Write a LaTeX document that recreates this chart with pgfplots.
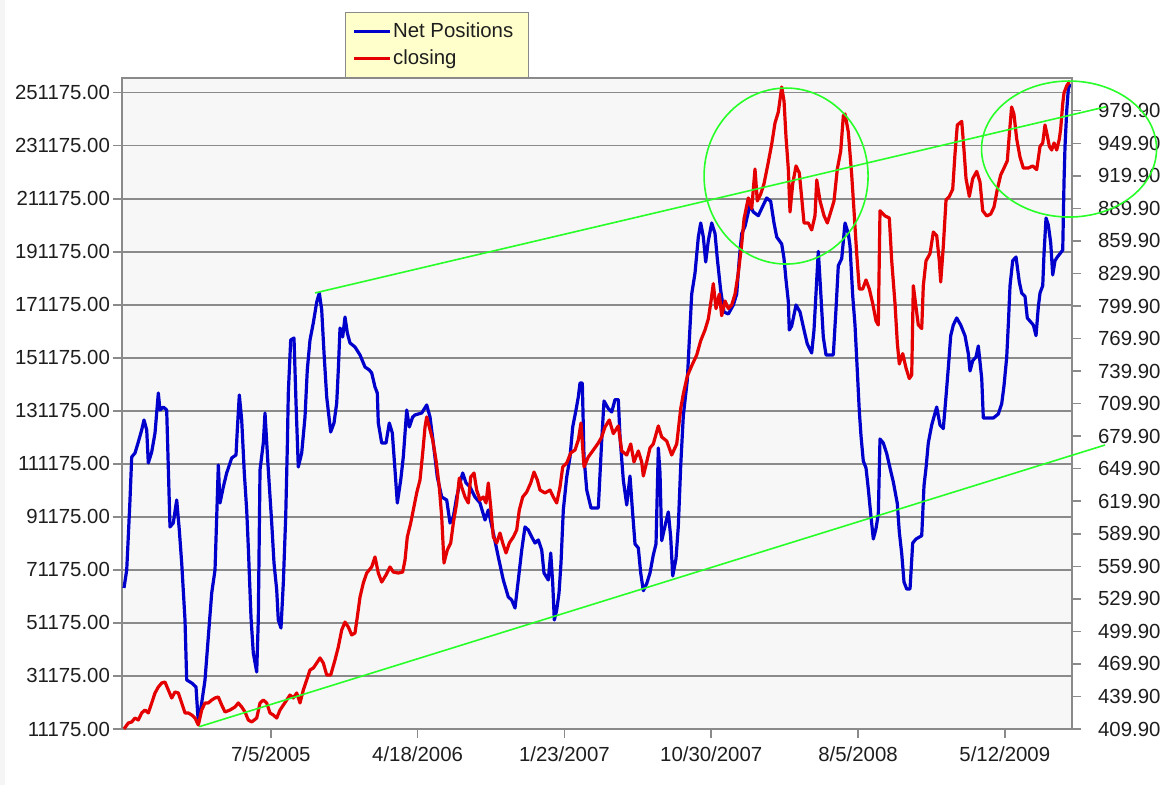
\documentclass[border=0pt]{standalone}
\usepackage{pgfplots}
\pgfplotsset{compat=1.18}
\usepackage{fontspec}
\setmainfont{Liberation Sans}
\definecolor{netblue}{RGB}{0,0,205}
\definecolor{closered}{RGB}{228,0,0}
\definecolor{trendgreen}{RGB}{40,255,40}
\definecolor{plotbg}{RGB}{247,247,247}
\definecolor{gridgray}{RGB}{138,138,138}
\definecolor{legendbg}{RGB}{255,255,204}
\definecolor{labeltext}{RGB}{30,30,30}
\begin{document}
\begin{tikzpicture}[x=1pt,y=1pt]
\path[use as bounding box] (0,0) rectangle (580,392.5);
\fill[gray!8] (0,0) rectangle (2.5,392.5);
\pgfplotsset{every axis/.append style={font=\fontsize{10.2}{12}\selectfont, text=labeltext}}
\begin{axis}[
  at={(61pt,28pt)}, anchor=south west, scale only axis,
  width=475pt, height=325.5pt,
  xmin=-0.545, xmax=258.31, ymin=11175, ymax=256730,
  scaled y ticks=false, scaled x ticks=false,
  axis background/.style={fill=plotbg},
  axis line style={gridgray, line width=0.75pt},
  ymajorgrids, grid style={gridgray, line width=0.75pt},
  tick align=outside, major tick length=4.5pt,
  tick style={gridgray, line width=0.75pt},
  xtick pos=bottom, ytick pos=left,
  xtick={40,80,120,160,200,240},
  xticklabels={7/5/2005,4/18/2006,1/23/2007,10/30/2007,8/5/2008,5/12/2009},
  ytick={11175,31175,51175,71175,91175,111175,131175,151175,171175,191175,211175,231175,251175},
  yticklabels={11175.00,31175.00,51175.00,71175.00,91175.00,111175.00,131175.00,151175.00,171175.00,191175.00,211175.00,231175.00,251175.00},
  yticklabel style={xshift=2pt},
  xticklabel style={yshift=-1pt},
]
\addplot[netblue, line width=1.6pt, line join=round] coordinates {
(0,64360) (0.74,71150) (1.09,81330) (1.63,97550) (2.10,113770) (3.00,115280) (3.82,119050) (4.82,123960) (5.45,127730) (6.19,123960) (6.62,111510) (7.55,115660) (8.45,122830) (9.35,137910) (9.81,131500) (10.71,132630) (11.63,131500) (12.07,110000) (12.53,87370) (13.43,88880) (14.36,97550) (15.07,86240) (15.72,73790) (16.62,52290) (17.08,29660) (18.45,28530) (19.62,27020) (20.25,13440) (21.17,20980) (22.07,29660) (22.97,45880) (23.90,62470) (24.80,71150) (25.26,91140) (25.70,110760) (26.16,96420) (27.06,102460) (27.98,107740) (29.35,113400) (30.52,114530) (30.87,123960) (31.42,137160) (32.07,127730) (32.78,107740) (33.43,93780) (33.87,79830) (34.60,53420) (35.23,39840) (36.16,32680) (36.59,52290) (37.06,108870) (37.96,119050) (38.42,130370) (39.32,108870) (40.25,88880) (40.87,73790) (41.61,63610) (42.04,52290) (42.78,49270) (43.41,66250) (44.06,91140) (44.50,117550) (44.77,137910) (45.42,157910) (46.32,158660) (46.87,134140) (47.49,110000) (48.42,115280) (49.32,128860) (49.94,146590) (50.68,157910) (51.58,164320) (52.51,172240) (53.22,175630) (53.87,169220) (54.50,153000) (55.23,136410) (56.32,123200) (57.22,126600) (57.96,134140) (58.39,146590) (58.86,162430) (59.59,159040) (60.22,166580) (60.85,160550) (61.58,156770) (62.94,155270) (64.31,152250) (65.67,147720) (66.84,146590) (67.49,145460) (68.39,140180) (69.02,137910) (69.29,126600) (70.22,119050) (71.39,119050) (72.29,126600) (73.11,122830) (73.84,108870) (74.47,96420) (75.40,105100) (76.10,113770) (77.03,131500) (77.74,125090) (78.66,128860) (79.29,129620) (81.12,130370) (82.48,133390) (83.38,128860) (84.28,119050) (85.37,106230) (86.57,98690) (87.93,97550) (88.83,88880) (89.73,91140) (90.65,98690) (91.55,103970) (92.29,107740) (93.19,103970) (94.28,102460) (95.64,98690) (97.00,96420) (98.37,90010) (99.26,93780) (100.63,85110) (101.99,76050) (103.35,67380) (104.71,60970) (105.64,59830) (106.54,56820) (107.44,67380) (108.37,78690) (109.26,87370) (110.16,86240) (111.09,83600) (111.99,81330) (112.89,82470) (113.82,78690) (114.44,70020) (115.61,67380) (116.27,77560) (116.81,66250) (117.25,52290) (117.90,56060) (118.53,62470) (119.07,73790) (119.70,93780) (120.63,106230) (121.53,113770) (122.26,125090) (123.16,131500) (123.79,136410) (124.25,141690) (124.88,141690) (125.34,113770) (126.08,101330) (127.25,94540) (129.24,94540) (130.16,119920) (130.79,134900) (131.96,132030) (132.89,130750) (133.79,135420) (134.69,135420) (135.15,121320) (136.05,105100) (136.98,95670) (137.87,106610) (138.50,94310) (139.24,80960) (140.14,79450) (140.79,70020) (141.50,63340) (142.43,66020) (143.32,70020) (144.22,76810) (144.96,80960) (145.59,117170) (146.05,107740) (146.51,82200) (147.41,87750) (148.31,93030) (148.96,83600) (149.51,68890) (150.41,75450) (151.04,87750) (151.69,110490) (152.40,129350) (153.49,142820) (154.03,157640) (154.69,175260) (155.59,183180) (156.49,196760) (157.14,202040) (157.85,196760) (158.50,187330) (159.21,195360) (160.14,202040) (161.04,198040) (161.66,188610) (162.59,176500) (163.49,168470) (164.66,167710) (166.02,171110) (166.95,175260) (167.66,188610) (168.31,198040) (169.21,200760) (170.57,208830) (171.47,206190) (172.83,204790) (174.20,208830) (175.12,211470) (176.21,210190) (177.11,202040) (177.85,196760) (179.21,194120) (179.84,188610) (180.38,180540) (181.01,172470) (181.28,161680) (181.93,163190) (183.11,171110) (184.20,168470) (185.29,161680) (186.18,156400) (187.38,153000) (188.01,161680) (188.75,180540) (189.18,191330) (189.65,180540) (190.54,159040) (191.28,152250) (193.27,152250) (194.01,169750) (194.63,185930) (195.56,188610) (196.46,202040) (197.36,198040) (197.82,193360) (198.56,174500) (199.18,163560) (199.81,146210) (200.35,131120) (200.82,121690) (201.44,112260) (202.18,109620) (202.81,101700) (203.46,92270) (204.17,82840) (204.90,86770) (205.53,92270) (205.99,120560) (206.89,119050) (207.82,115060) (208.72,109620) (209.62,104340) (210.71,96200) (211.25,85480) (211.91,77340) (212.53,66620) (213.27,63980) (214.17,63980) (214.90,81330) (215.80,82840) (217.36,84090) (217.98,102950) (218.53,109620) (219.15,119050) (220.08,125840) (221.44,132630) (222.34,125840) (223.24,124490) (223.98,136630) (224.60,147340) (225.26,159530) (225.97,163560) (226.89,166200) (227.98,163560) (229.15,159530) (230.05,152780) (230.52,146210) (231.25,150100) (232.15,151490) (232.78,155640) (233.71,143350) (234.14,128480) (236.87,128480) (238.23,129990) (239.16,133920) (239.78,140670) (240.52,151490) (240.95,163560) (241.42,178390) (242.15,187820) (243.05,189210) (243.95,179790) (244.60,175630) (245.50,174350) (246.13,166200) (247.77,163560) (248.50,159530) (249.13,170360) (249.59,175630) (250.33,178390) (250.68,190500) (251.23,203920) (251.85,201280) (252.51,194490) (253.05,182420) (253.68,187820) (254.31,189210) (255.04,190500) (255.78,191850) (256.13,217500) (256.40,230930) (256.87,244400) (257.30,252580) (257.77,254470)
};
\end{axis}
\begin{axis}[
  at={(61pt,28pt)}, anchor=south west, scale only axis,
  width=475pt, height=325.5pt,
  xmin=-0.545, xmax=258.31, ymin=409.9, ymax=1010.1,
  hide x axis, axis y line*=right,
  axis line style={gridgray, line width=0.75pt},
  tick align=outside, major tick length=4.5pt,
  tick style={gridgray, line width=0.75pt},
  ytick={409.9,439.9,469.9,499.9,529.9,559.9,589.9,619.9,649.9,679.9,709.9,739.9,769.9,799.9,829.9,859.9,889.9,919.9,949.9,979.9},
  yticklabels={409.90,439.90,469.90,499.90,529.90,559.90,589.90,619.90,649.90,679.90,709.90,739.90,769.90,799.90,829.90,859.90,889.90,919.90,949.90,979.90},
  yticklabel style={xshift=5pt},
  clip=false,
  legend style={at={(0.2347,1.0)}, anchor=south west, draw=gridgray, fill=legendbg,
    line width=0.5pt, inner xsep=3.5pt, inner ysep=3.8pt, row sep=2.3pt,
    nodes={inner xsep=0.5pt, inner ysep=1.2pt},
    font=\fontsize{10.2}{12}\selectfont},
  legend cell align=left,
  legend image code/.code={\draw[#1] (0pt,0pt) -- (18pt,0pt);},
]
\addlegendimage{netblue, line width=1.8pt}
\addlegendentry{\makebox[63.5pt][l]{Net Positions}}
\addplot[closered, line width=1.6pt, line join=round] coordinates {
(0,410.0) (1.17,415.4) (2.10,416.4) (3.00,420.0) (3.90,418.2) (4.82,424.7) (5.72,427.4) (6.62,424.7) (7.55,433.9) (8.45,443.1) (9.35,448.6) (10.27,452.3) (11.17,453.2) (12.07,445.9) (13.00,438.5) (13.90,444.0) (14.80,443.1) (15.72,433.9) (16.62,424.7) (17.52,424.7) (18.45,422.8) (19.35,420.0) (20.25,413.6) (21.17,427.4) (22.07,433.9) (22.97,433.9) (23.90,436.6) (24.80,438.5) (25.70,439.4) (26.62,432.0) (27.52,425.6) (28.88,427.4) (30.25,430.2) (31.14,433.9) (32.07,430.2) (32.97,425.6) (33.87,418.2) (34.80,416.4) (36.16,420.0) (37.06,433.9) (37.96,436.6) (38.88,433.9) (39.78,424.7) (40.68,422.8) (41.61,420.0) (42.51,427.4) (43.41,432.0) (44.33,436.6) (45.23,441.2) (46.13,438.5) (47.06,443.1) (47.96,433.9) (48.86,445.9) (49.78,455.1) (50.68,464.3) (51.58,466.1) (52.51,470.7) (53.41,475.4) (54.31,470.7) (55.23,459.7) (56.32,459.7) (57.49,473.5) (58.39,485.5) (59.32,501.2) (60.22,508.5) (61.12,503.9) (62.04,496.6) (62.94,498.4) (63.57,513.2) (64.31,531.6) (65.21,544.5) (66.13,553.7) (67.49,559.3) (68.39,568.5) (69.29,553.7) (70.22,545.4) (71.39,551.9) (72.48,559.3) (73.38,554.6) (74.74,553.7) (75.94,554.6) (76.57,565.7) (77.19,586.9) (78.12,599.8) (78.83,611.8) (79.75,627.5) (80.65,639.5) (81.39,664.4) (82.02,688.3) (82.48,697.6) (83.19,688.3) (84.11,676.3) (85.01,657.9) (85.91,633.0) (86.57,605.4) (87.19,562.9) (88.09,574.9) (89.02,581.4) (89.73,599.8) (90.65,618.3) (91.36,641.3) (92.02,633.0) (92.92,623.8) (93.82,618.3) (94.47,642.2) (95.37,645.9) (96.10,630.2) (97.00,621.0) (97.90,623.8) (98.64,618.3) (99.26,636.7) (99.92,614.6) (100.63,586.9) (101.55,581.4) (102.45,590.6) (103.19,581.4) (104.09,572.2) (104.99,581.4) (106.08,586.9) (107.00,593.4) (107.71,611.8) (108.64,623.8) (109.73,628.4) (110.82,636.7) (111.72,646.8) (112.62,639.5) (113.35,630.2) (114.71,627.5) (116.08,630.2) (116.97,623.8) (117.90,618.3) (118.80,633.0) (119.54,651.5) (120.63,655.1) (121.72,664.4) (122.89,667.1) (123.79,676.3) (124.52,692.0) (125.34,651.5) (126.51,660.7) (127.88,667.1) (129.24,673.6) (130.16,679.1) (131.06,688.3) (132.23,694.8) (133.33,682.2) (134.69,689.3) (135.62,666.2) (136.98,662.5) (138.07,672.7) (138.96,656.1) (140.14,666.2) (141.06,656.1) (141.50,643.2) (142.43,656.1) (143.32,669.0) (144.22,672.7) (145.59,689.3) (146.51,679.1) (147.88,675.4) (149.24,662.5) (150.60,672.7) (151.69,705.3) (152.40,718.8) (153.49,735.3) (154.69,744.8) (156.05,754.7) (157.14,767.9) (158.31,777.8) (159.21,787.9) (159.95,804.5) (160.57,820.5) (161.31,797.5) (162.21,810.9) (162.86,790.9) (163.76,804.5) (164.66,797.5) (165.59,800.8) (166.49,810.9) (167.38,830.3) (168.31,857.0) (168.94,880.1) (170.11,899.5) (171.04,889.7) (171.93,926.2) (172.56,896.7) (173.49,903.1) (174.39,912.7) (175.56,932.6) (176.49,949.2) (177.38,968.6) (178.28,978.7) (179.21,1001.8) (179.84,988.9) (180.38,955.7) (181.01,926.2) (181.47,886.5) (182.21,912.7) (183.11,929.0) (184.01,922.5) (184.66,899.5) (185.29,876.4) (186.46,876.4) (187.38,870.0) (188.28,883.1) (188.75,916.1) (189.65,896.7) (190.74,883.1) (191.64,876.4) (192.56,886.5) (193.46,896.7) (194.36,926.2) (195.29,942.8) (196.00,975.3) (196.46,976.9) (197.36,960.3) (198.28,920.7) (198.91,887.7) (199.64,848.2) (200.35,815.6) (201.28,815.6) (202.18,823.9) (203.08,815.6) (204.01,802.1) (204.90,786.1) (205.53,782.4) (205.99,887.7) (207.36,882.9) (208.53,881.0) (209.18,841.6) (210.08,802.1) (210.71,765.8) (211.25,746.4) (212.18,756.0) (213.08,742.7) (213.98,733.0) (214.63,736.3) (215.07,818.6) (215.80,799.0) (216.43,782.4) (217.36,779.1) (217.79,818.6) (218.53,841.6) (219.62,848.2) (220.52,868.1) (221.44,864.7) (222.15,841.6) (222.53,822.0) (223.24,854.8) (223.98,897.6) (224.88,900.9) (225.80,907.5) (226.43,940.4) (227.06,966.8) (228.26,970.1) (228.88,943.7) (229.43,917.3) (230.33,900.9) (231.25,917.3) (232.34,924.0) (233.24,914.2) (233.98,887.7) (235.07,882.9) (236.16,884.7) (237.06,891.2) (237.96,907.5) (238.88,920.7) (239.78,927.1) (240.68,933.8) (241.20,956.9) (241.85,983.4) (242.48,976.9) (243.24,953.8) (244.14,937.2) (245.04,927.1) (246.40,927.1) (247.60,929.0) (248.69,925.6) (249.59,947.0) (250.33,950.2) (250.95,966.8) (251.58,956.9) (252.13,947.0) (252.77,943.7) (253.41,950.2) (254.14,943.7) (254.85,953.8) (255.23,963.4) (255.78,986.5) (256.13,996.3) (256.87,1003.0) (257.57,1006.4)
};
\addlegendentry{\makebox[63.5pt][l]{closing}}
\addplot[trendgreen, line width=0.8pt, forget plot] coordinates {(52.04,811.9) (267.6,983.6)};
\addplot[trendgreen, line width=0.8pt, forget plot] coordinates {(20.5,412.0) (267.3,671.7)};
\draw[trendgreen, line width=0.8pt] (axis cs:180.4,919.7) ellipse [x radius=41pt, y radius=44pt];
\draw[trendgreen, line width=0.8pt] (axis cs:257.5,944.6) ellipse [x radius=43.75pt, y radius=34pt];
\end{axis}
\end{tikzpicture}
\end{document}
